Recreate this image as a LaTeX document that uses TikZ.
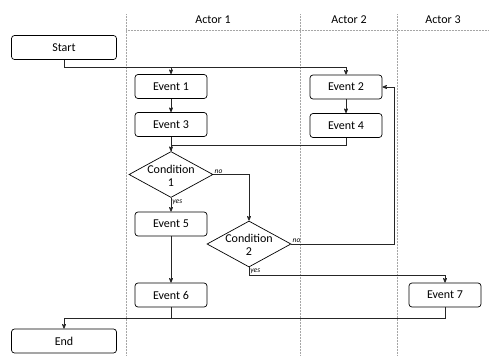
\documentclass[tikz,border=0pt]{standalone}
\usepackage{fontspec}
\setmainfont{Carlito}
\usepackage{tikz}
\usetikzlibrary{positioning}
\usetikzlibrary{arrows,shapes.geometric}

\begin{document}
\begin{tikzpicture}[>=stealth',x=1pt,y=-1pt,line width=0.7pt,
    every node/.style={font=\fontsize{12}{13}\selectfont},
    box/.style={draw,rounded corners=3pt,minimum width=72pt,minimum height=24pt,inner sep=0pt},
    term/.style={box,minimum width=105pt},
    decision/.style={draw,diamond,minimum width=84pt,minimum height=46pt,inner sep=0pt},
    lane/.style={draw=black!35,densely dotted,line width=0.5pt},
    tag/.style={font=\fontsize{7.5}{8}\itshape,inner sep=1pt},
    flow/.style={draw=black!85}]
  \useasboundingbox (0,0) rectangle (489,356);

  % swimlanes
  \draw[lane] (126,14) -- (126,356);
  \draw[lane] (300,14) -- (300,356);
  \draw[lane] (397,14) -- (397,356);
  \draw[lane] (126,30) -- (489,30);
  \node (Actor1) at (213,20) {Actor 1};
  \node (Actor2) at (349,20) {Actor 2};
  \node (Actor3) at (443,20) {Actor 3};

  % steps
  \node[term]     (Start)  at (64,47.5)   {Start};
  \node[box]      (Event1) at (171,86.5)  {Event 1};
  \node[box]      (Event3) at (171,124.5) {Event 3};
  \node[box]      (Event2) at (346,87)    {Event 2};
  \node[box]      (Event4) at (346,125.5) {Event 4};
  \node[decision,label={[align=center,yshift=-1pt]center:Condition\\1}] (Cond1) at (171,174.5) {};
  \node[box]      (Event5) at (171,224)   {Event 5};
  \node[decision,label={[align=center,yshift=-1pt]center:Condition\\2}] (Cond2) at (249,244) {};
  \node[box]      (Event6) at (171,295)   {Event 6};
  \node[box]      (Event7) at (445,295)   {Event 7};
  \node[term]     (End)    at (64,341)    {End};

  \path[flow,->]
    (Event1)       edge (Event3)
    (Event2)       edge (Event4)
    (Event3)       edge (Cond1)
    (Event5)       edge (Event6);
  \draw[flow,->] (Start.south) -- ++(0,7) -| (Event1.north);
  \draw[flow,->] (Start.south) -- ++(0,7) -| (Event2.north);
  \draw[flow] (Event4.south) -- ++(0,7) -| (Cond1.north);
  \draw[flow,->] (Cond1.east) node[tag,above right] {no} -| (Cond2.north);
  \draw[flow,->] (Cond1.south) -- node[tag,right,pos=0.3] {yes} (Event5.north);
  \draw[flow,->] (Cond2.east) node[tag,above right] {no} -- ++(103,0) |- (Event2.east);
  \draw[flow,->] (Cond2.south) node[tag,below right] {yes} -- ++(0,8) -| (Event7.north);
  \draw[flow,->] (Event7.south) -- ++(0,11) -| (End.north);
  \draw[flow] (Event6.south) -- ++(0,11);
\end{tikzpicture}
\end{document}
